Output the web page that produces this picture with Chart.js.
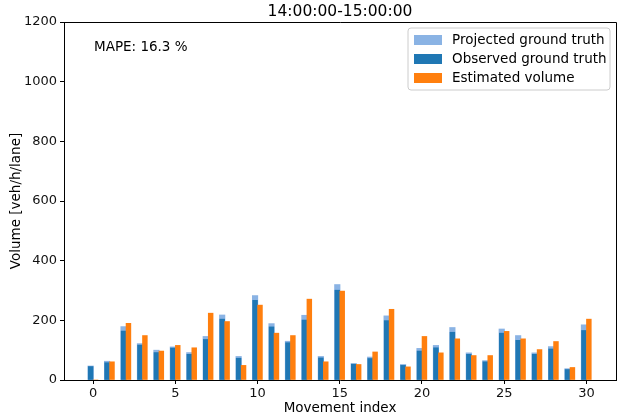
<!DOCTYPE html>
<html><head><meta charset="utf-8">
<script src="https://cdn.jsdelivr.net/npm/chart.js@4/dist/chart.umd.min.js"></script>
<style>html,body{margin:0;padding:0;background:#fff}#wrap{width:630px;height:419px}</style>
</head><body><div id="wrap"><canvas id="c" width="630" height="419"></canvas></div>
<script>
const movementIndex = [0,1,2,3,4,5,6,7,8,9,10,11,12,13,14,15,16,17,18,19,20,21,22,23,24,25,26,27,28,29,30];
const projectedTruth = [47,63,179,122,100,111,92,146,218,79,283,189,130,217,79,320,55,77,215,52,106,116,176,91,65,171,149,91,112,38,185];
const observedTruth = [45,58,164,117,92,107,86,136,204,73,267,178,125,201,74,301,53,72,199,49,97,108,160,86,61,157,133,86,104,35,166];
const estimatedVolume = [0,61,190,149,97,116,108,224,196,49,251,157,149,271,61,298,52,94,237,44,146,91,138,82,82,163,138,102,129,42,204];
const xTicks = [0,5,10,15,20,25,30];
const yTicks = [0,200,400,600,800,1000,1200];
const titleText = '14:00:00-15:00:00';
const mapeText = 'MAPE: 16.3 %';

const FONT = '"DejaVu Sans", sans-serif';
const pts = (arr, off) => arr.map((v, i) => ({x: movementIndex[i] + off, y: v}));

const overlay = {
  id: 'overlay',
  afterDraw(chart) {
    const {ctx, chartArea: a} = chart;
    ctx.save();
    ctx.strokeStyle = '#000'; ctx.lineWidth = 1;
    ctx.beginPath();
    ctx.moveTo(a.left, a.top + 0.5); ctx.lineTo(a.right + 0.5, a.top + 0.5);
    ctx.lineTo(a.right + 0.5, a.bottom);
    ctx.stroke();
    ctx.fillStyle = '#000';
    ctx.font = '15.5px ' + FONT;
    ctx.textAlign = 'center'; ctx.textBaseline = 'middle';
    ctx.fillText(titleText, (a.left + a.right) / 2, 12);
    ctx.font = '13.5px ' + FONT;
    ctx.textAlign = 'left';
    ctx.fillText(mapeText, 94, 47);
    const bx = 408, by = 28, bw = 202, bh = 62, r = 3;
    ctx.fillStyle = 'rgba(255,255,255,0.8)';
    ctx.strokeStyle = '#cccccc';
    ctx.beginPath();
    ctx.moveTo(bx + r, by); ctx.lineTo(bx + bw - r, by); ctx.quadraticCurveTo(bx + bw, by, bx + bw, by + r);
    ctx.lineTo(bx + bw, by + bh - r); ctx.quadraticCurveTo(bx + bw, by + bh, bx + bw - r, by + bh);
    ctx.lineTo(bx + r, by + bh); ctx.quadraticCurveTo(bx, by + bh, bx, by + bh - r);
    ctx.lineTo(bx, by + r); ctx.quadraticCurveTo(bx, by, bx + r, by);
    ctx.closePath(); ctx.fill(); ctx.stroke();
    const items = [0, 1, 2].map(i => chart.data.datasets[i]);
    items.forEach((ds, k) => {
      const cy = 40 + k * 19;
      ctx.fillStyle = ds.backgroundColor;
      ctx.fillRect(414, cy - 5, 28, 10);
      ctx.fillStyle = '#000';
      ctx.font = '13.5px ' + FONT;
      ctx.textAlign = 'left'; ctx.textBaseline = 'middle';
      ctx.fillText(ds.label, 452, cy);
    });
    ctx.restore();
  }
};

new Chart(document.getElementById('c'), {
  type: 'bar',
  data: {
    datasets: [
      {label: 'Projected ground truth', data: pts(projectedTruth, -0.15), backgroundColor: '#8ab3e4', barThickness: 5.5, order: 3, grouped: false},
      {label: 'Observed ground truth', data: pts(observedTruth, -0.15), backgroundColor: '#1f77b4', barThickness: 4.8, order: 2, grouped: false},
      {label: 'Estimated volume', data: pts(estimatedVolume, 0.15), backgroundColor: '#ff7f0e', barThickness: 4.8, order: 1, grouped: false}
    ]
  },
  options: {
    responsive: false, animation: false,
    devicePixelRatio: 1,
    layout: {padding: {top: 22, right: 14, bottom: 0, left: 0}},
    plugins: {legend: {display: false}, tooltip: {enabled: false}, title: {display: false}},
    scales: {
      x: {
        type: 'linear', min: -1.77, max: 31.8, offset: false,
        afterBuildTicks: s => { s.ticks = xTicks.map(v => ({value: v})); },
        afterFit: s => { s.height = 39; },
        grid: {display: true, offset: false, drawOnChartArea: false, drawTicks: true, tickLength: 4, color: '#000'},
        border: {display: true, color: '#000'},
        ticks: {color: '#111', font: {family: FONT, size: 13}, padding: 2, maxRotation: 0, autoSkip: false, callback: v => String(v)},
        title: {display: true, text: 'Movement index', color: '#000', font: {family: FONT, size: 13.5}, padding: {top: 0, bottom: 2}}
      },
      y: {
        min: 0, max: 1200,
        afterBuildTicks: s => { s.ticks = yTicks.map(v => ({value: v})); },
        afterFit: s => { s.width = 64; },
        grid: {display: true, offset: false, drawOnChartArea: false, drawTicks: true, tickLength: 4, color: '#000'},
        border: {display: true, color: '#000'},
        ticks: {color: '#111', font: {family: FONT, size: 13}, padding: 3, callback: v => String(v)},
        title: {display: true, text: 'Volume [veh/h/lane]', color: '#000', font: {family: FONT, size: 13.5}, padding: {top: 8, bottom: 0}}
      }
    }
  },
  plugins: [overlay]
});
</script></body></html>
